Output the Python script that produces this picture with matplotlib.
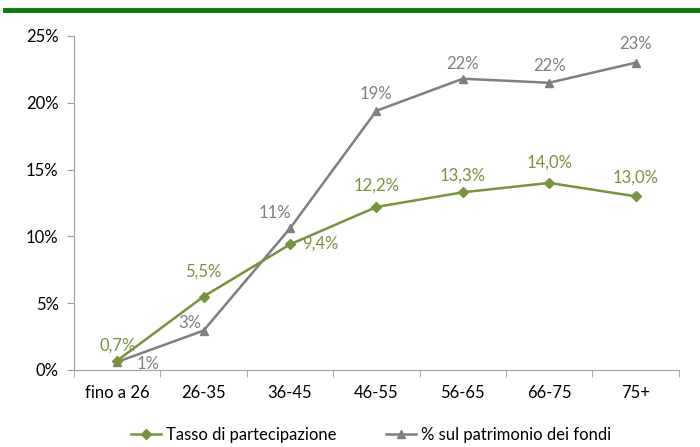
import matplotlib
matplotlib.use("Agg")
import matplotlib.pyplot as plt
from matplotlib.lines import Line2D

plt.rcParams['font.family'] = ['Lato', 'DejaVu Sans']

categorie = ["fino a 26", "26-35", "36-45", "46-55", "56-65", "66-75", "75+"]
tasso = [0.7, 5.5, 9.4, 12.2, 13.3, 14.0, 13.0]
tasso_lbl = ["0,7%", "5,5%", "9,4%", "12,2%", "13,3%", "14,0%", "13,0%"]
patrimonio = [0.6, 2.95, 10.6, 19.4, 21.8, 21.5, 23.0]
patrimonio_lbl = ["1%", "3%", "11%", "19%", "22%", "22%", "23%"]

VERDE = "#77933C"
GRIGIO = "#7F7F7F"
PX = 0.72  # pixel -> punti a dpi 100

fig = plt.figure(figsize=(7, 4.47), dpi=100)
# linea verde in alto
fig.add_artist(Line2D([0.007, 1.0], [0.977, 0.977], color="#0A7A0A", lw=3.5))

ax = fig.add_axes([0.1057, 0.1723, 0.864, 0.7472])
x = list(range(len(categorie)))
ax.plot(x, tasso, color=VERDE, lw=1.8, marker="D", ms=5, label="Tasso di partecipazione", zorder=3)
ax.plot(x, patrimonio, color=GRIGIO, lw=1.8, marker="^", ms=6, label="% sul patrimonio dei fondi", zorder=2)

# etichette (offset in pixel dal punto al centro del testo)
off_t = [(0, 15), (0, 25), (30, 1), (0, 21), (0, 17), (0, 20), (0, 19)]
for i, (v, s) in enumerate(zip(tasso, tasso_lbl)):
    dx, dy = off_t[i]
    ax.annotate(s, (i, v), xytext=(dx * PX, dy * PX), textcoords="offset points",
                ha="center", va="center", color=VERDE, fontsize=12)
off_p = [(31, -2), (-14, 8), (-15, 15), (0, 17), (0, 15), (0, 17), (0, 19)]
for i, (v, s) in enumerate(zip(patrimonio, patrimonio_lbl)):
    dx, dy = off_p[i]
    ax.annotate(s, (i, v), xytext=(dx * PX, dy * PX), textcoords="offset points",
                ha="center", va="center", color=GRIGIO, fontsize=12)

ax.set_xlim(-0.5, len(categorie) - 0.5)
ax.set_ylim(0, 25)
ax.set_yticks(range(0, 26, 5))
ax.set_yticklabels([f"{t}%" for t in range(0, 26, 5)], fontsize=12)
ax.set_xticks(x)
ax.set_xticklabels(categorie, fontsize=12)
ax.tick_params(axis="x", which="major", length=0, pad=11)
ax.set_xticks([i - 0.5 for i in range(len(categorie) + 1)], minor=True)
ax.tick_params(axis="x", which="minor", length=5, color="#A0A0A0", direction="out")
ax.tick_params(axis="y", length=5, color="#A0A0A0", direction="out", pad=6)
for s in ["top", "right"]:
    ax.spines[s].set_visible(False)
for s in ["left", "bottom"]:
    ax.spines[s].set_color("#A0A0A0")

fig.legend(loc="lower center", bbox_to_anchor=(0.53, -0.025), ncol=2, frameon=False,
           fontsize=12, handlelength=1.8, columnspacing=3.0, handletextpad=0.3)

fig.savefig("out.png", dpi=100)
